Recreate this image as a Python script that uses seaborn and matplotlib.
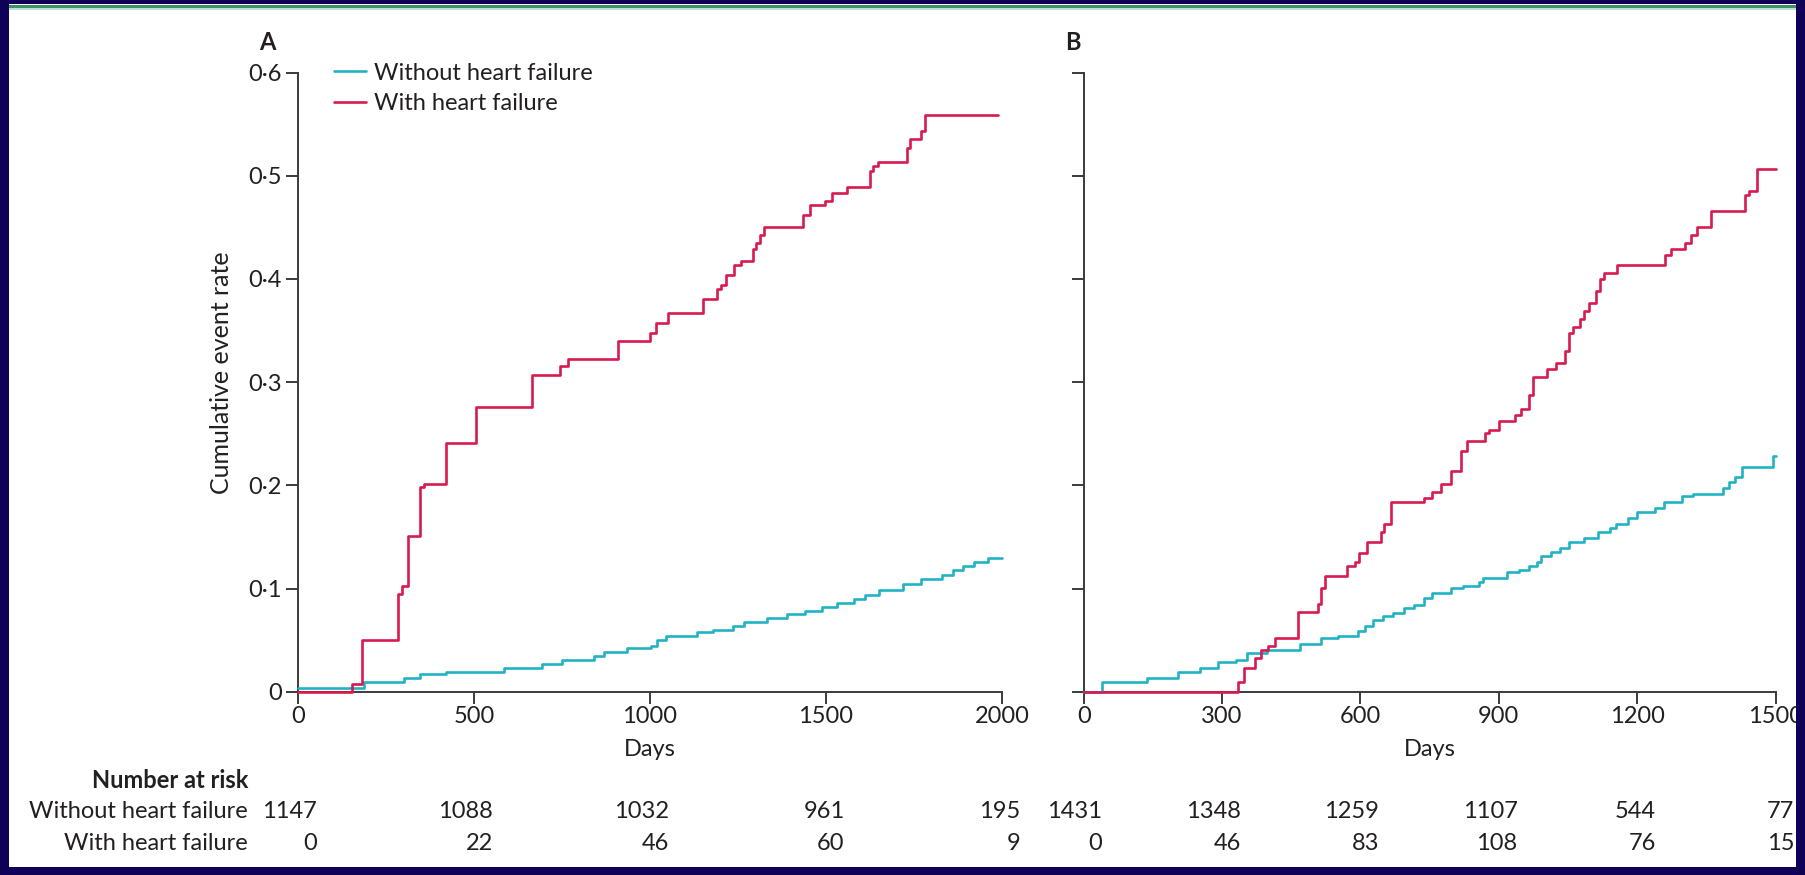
import matplotlib
matplotlib.use("Agg")
import matplotlib.pyplot as plt
import seaborn as sns
import pandas as pd
from matplotlib.patches import Rectangle

# ---------------- data ----------------
groups = ["Without heart failure", "With heart failure"]
line_colors = ["#21b3c4", "#d81a50"]

a_without_days = [0, 187, 302, 347, 420, 585, 694, 751, 842, 870, 934, 1002, 1019, 1045,
                  1133, 1178, 1235, 1268, 1332, 1390, 1440, 1490, 1530, 1580, 1610, 1650,
                  1720, 1770, 1830, 1860, 1890, 1920, 1960, 2000]
a_without_rate = [0.0033, 0.009, 0.013, 0.0169, 0.0188, 0.0227, 0.0266, 0.0305, 0.0343, 0.0382,
                  0.042, 0.044, 0.0499, 0.0537, 0.0576, 0.0598, 0.0637, 0.0673, 0.0712, 0.075,
                  0.078, 0.082, 0.086, 0.090, 0.094, 0.099, 0.104, 0.109, 0.113, 0.118, 0.122,
                  0.126, 0.130, 0.130]

a_with_days = [0, 152, 181, 285, 296, 313, 347, 358, 420, 506, 666, 744, 768, 910, 1000, 1017,
               1052, 1150, 1189, 1202, 1216, 1240, 1258, 1292, 1302, 1312, 1325, 1434, 1454,
               1496, 1516, 1559, 1624, 1634, 1647, 1729, 1738, 1771, 1781, 1990]
a_with_rate = [0.0, 0.0075, 0.050, 0.095, 0.1025, 0.151, 0.198, 0.2015, 0.241, 0.2755, 0.3065,
               0.316, 0.3224, 0.3398, 0.3476, 0.3573, 0.367, 0.381, 0.3903, 0.394, 0.404, 0.414,
               0.4177, 0.4294, 0.435, 0.443, 0.4505, 0.462, 0.472, 0.476, 0.483, 0.489, 0.505,
               0.509, 0.513, 0.527, 0.536, 0.543, 0.559, 0.559]

b_without_days = [0, 40, 137, 205, 252, 292, 330, 353, 397, 469, 514, 552, 595, 610, 628, 648,
                  671, 695, 717, 738, 756, 797, 823, 857, 866, 918, 944, 965, 983, 991, 1014,
                  1032, 1053, 1084, 1114, 1140, 1155, 1179, 1200, 1239, 1257, 1296, 1322, 1387,
                  1399, 1411, 1427, 1495, 1500]
b_without_rate = [0.0, 0.0097, 0.013, 0.0194, 0.0227, 0.0291, 0.0307, 0.0372, 0.0404, 0.046,
                  0.0518, 0.054, 0.0592, 0.0637, 0.0695, 0.0734, 0.076, 0.0809, 0.0841, 0.0912,
                  0.0954, 0.1003, 0.1025, 0.1067, 0.11, 0.1158, 0.118, 0.1219, 0.126, 0.1316,
                  0.1358, 0.1397, 0.1449, 0.1488, 0.1546, 0.1591, 0.1627, 0.1688, 0.174, 0.1785,
                  0.1837, 0.1898, 0.1915, 0.1973, 0.2037, 0.2085, 0.2173, 0.2286, 0.2286]

b_with_days = [0, 334, 348, 371, 384, 400, 415, 465, 509, 514, 523, 570, 588, 596, 614, 644,
               652, 666, 737, 756, 774, 797, 818, 831, 871, 878, 900, 934, 947, 965, 974, 1004,
               1025, 1043, 1053, 1061, 1075, 1085, 1095, 1110, 1119, 1127, 1156, 1260, 1273,
               1304, 1316, 1330, 1359, 1434, 1443, 1459, 1500]
b_with_rate = [0.0, 0.009, 0.0227, 0.0324, 0.0404, 0.0443, 0.0524, 0.0776, 0.085, 0.1009,
               0.1122, 0.1219, 0.126, 0.1342, 0.1455, 0.1552, 0.1627, 0.1843, 0.1882, 0.194,
               0.2017, 0.2137, 0.233, 0.2425, 0.2506, 0.254, 0.262, 0.268, 0.2739, 0.2871,
               0.305, 0.3127, 0.3185, 0.3302, 0.3476, 0.3534, 0.3612, 0.3686, 0.3767, 0.388,
               0.40, 0.4054, 0.4136, 0.4233, 0.4291, 0.4349, 0.443, 0.4504, 0.466, 0.4815,
               0.485, 0.5067, 0.5067]

a_xticks = [0, 500, 1000, 1500, 2000]
b_xticks = [0, 300, 600, 900, 1200, 1500]
yticks = [0, 0.1, 0.2, 0.3, 0.4, 0.5, 0.6]
ytick_labels = ["0", "0·1", "0·2", "0·3", "0·4", "0·5", "0·6"]

risk_a_without = [1147, 1088, 1032, 961, 195]
risk_a_with = [0, 22, 46, 60, 9]
risk_b_without = [1431, 1348, 1259, 1107, 544, 77]
risk_b_with = [0, 46, 83, 108, 76, 15]

# ---------------- style ----------------
sns.set_style("ticks")
plt.rcParams["font.family"] = ["Lato", "DejaVu Sans"]
TXT = "#231f20"
SPINE = "#3b3b3b"
FS = 17

W, H = 1806, 875
fig = plt.figure(figsize=(W / 100, H / 100), dpi=100)
fig.patch.set_facecolor("white")


def fx(px):
    return px / W


def fy(py_from_top):
    return 1 - py_from_top / H


y0_px, y6_px = 691.7, 72.6
axA = fig.add_axes([fx(298), fy(y0_px), fx(1002 - 298), (y0_px - y6_px) / H])
axB = fig.add_axes([fx(1083.7), fy(y0_px), fx(1775.6 - 1083.7), (y0_px - y6_px) / H])


def make_df(d1, r1, d2, r2):
    return pd.concat([
        pd.DataFrame({"Days": d1, "Rate": r1, "Group": groups[0]}),
        pd.DataFrame({"Days": d2, "Rate": r2, "Group": groups[1]}),
    ], ignore_index=True)


dfA = make_df(a_without_days, a_without_rate, a_with_days, a_with_rate)
dfB = make_df(b_without_days, b_without_rate, b_with_days, b_with_rate)
pal = dict(zip(groups, line_colors))

LW = 1.9
for ax, df, xt, xmax, legend in [(axA, dfA, a_xticks, 2000, True), (axB, dfB, b_xticks, 1500, False)]:
    sns.lineplot(data=df, x="Days", y="Rate", hue="Group", palette=pal, estimator=None,
                 drawstyle="steps-post", linewidth=LW, ax=ax, legend=legend,
                 clip_on=False, zorder=4)
    ax.set_xlim(0, xmax)
    ax.set_ylim(0, 0.6)
    ax.set_xticks(xt)
    ax.set_xticklabels([str(v) for v in xt], fontsize=FS, color=TXT)
    ax.set_yticks(yticks)
    for s in ["top", "right"]:
        ax.spines[s].set_visible(False)
    for s in ["left", "bottom"]:
        ax.spines[s].set_color(SPINE)
        ax.spines[s].set_linewidth(1.4)
    ax.tick_params(axis="both", direction="out", length=8.5, width=1.4, color=SPINE)
    ax.tick_params(axis="x", pad=1.5)
    ax.tick_params(axis="y", pad=3)
    ax.set_xlabel("Days", fontsize=FS, color=TXT)
    ax.xaxis.set_label_coords(0.5, -(749 - y0_px) / (y0_px - y6_px))
    ax.xaxis.label.set_va("center")
    ax.set_facecolor("white")

axA.set_yticklabels(ytick_labels, fontsize=FS, color=TXT)
axB.set_yticklabels([])
axB.set_ylabel("")
axA.set_ylabel("Cumulative event rate", fontsize=18, color=TXT)
axA.yaxis.set_label_coords(-0.109, 0.515)
axA.yaxis.label.set_va("center")

leg = axA.legend(loc="upper left", bbox_to_anchor=(0.051, 1.016), frameon=False,
                 fontsize=FS, handlelength=1.35, handletextpad=0.35, labelspacing=0.4,
                 borderpad=0, borderaxespad=0)
for t in leg.get_texts():
    t.set_color(TXT)
for h in leg.get_lines():
    h.set_linewidth(LW)

axA.text(-0.044, 1.0486, "A", transform=axA.transAxes, fontsize=FS, fontweight="bold",
         color=TXT, ha="center", va="center")
axB.text(-0.016, 1.0486, "B", transform=axB.transAxes, fontsize=FS, fontweight="bold",
         color=TXT, ha="center", va="center")

# number at risk table
fig.text(fx(248), fy(780), "Number at risk", fontsize=FS, fontweight="bold", color=TXT,
         ha="right", va="center")
fig.text(fx(248), fy(811), groups[0], fontsize=FS, color=TXT, ha="right", va="center")
fig.text(fx(248), fy(843), groups[1], fontsize=FS, color=TXT, ha="right", va="center")

for ax, xt, rw, rh in [(axA, a_xticks, risk_a_without, risk_a_with),
                       (axB, b_xticks, risk_b_without, risk_b_with)]:
    for t, n1, n2 in zip(xt, rw, rh):
        for n, ypx in [(n1, 811), (n2, 843)]:
            ax.annotate(str(n), xy=(t, 0), xycoords=("data", "axes fraction"),
                        xytext=(13.5, -(ypx - y0_px) * 0.72), textcoords="offset points",
                        ha="right", va="center", fontsize=FS, color=TXT,
                        annotation_clip=False)

# page frame
NAVY = "#0f0058"
frame = [
    (0, 0, 9, H, NAVY),
    (1796, 0, W - 1796, H, NAVY),
    (0, 0, W, 3.5, NAVY),
    (0, 867, W, H - 867, NAVY),
    (9, 5.2, 1787, 3.0, "#3f8f6f"),
    (9, 8.2, 1787, 1.4, "#b9e2d6"),
]
for x, y, w, h, c in frame:
    fig.patches.append(Rectangle((fx(x), fy(y + h)), fx(w), h / H, transform=fig.transFigure,
                                 facecolor=c, edgecolor="none", zorder=20))

fig.savefig("out.png", dpi=100, facecolor=fig.get_facecolor())
